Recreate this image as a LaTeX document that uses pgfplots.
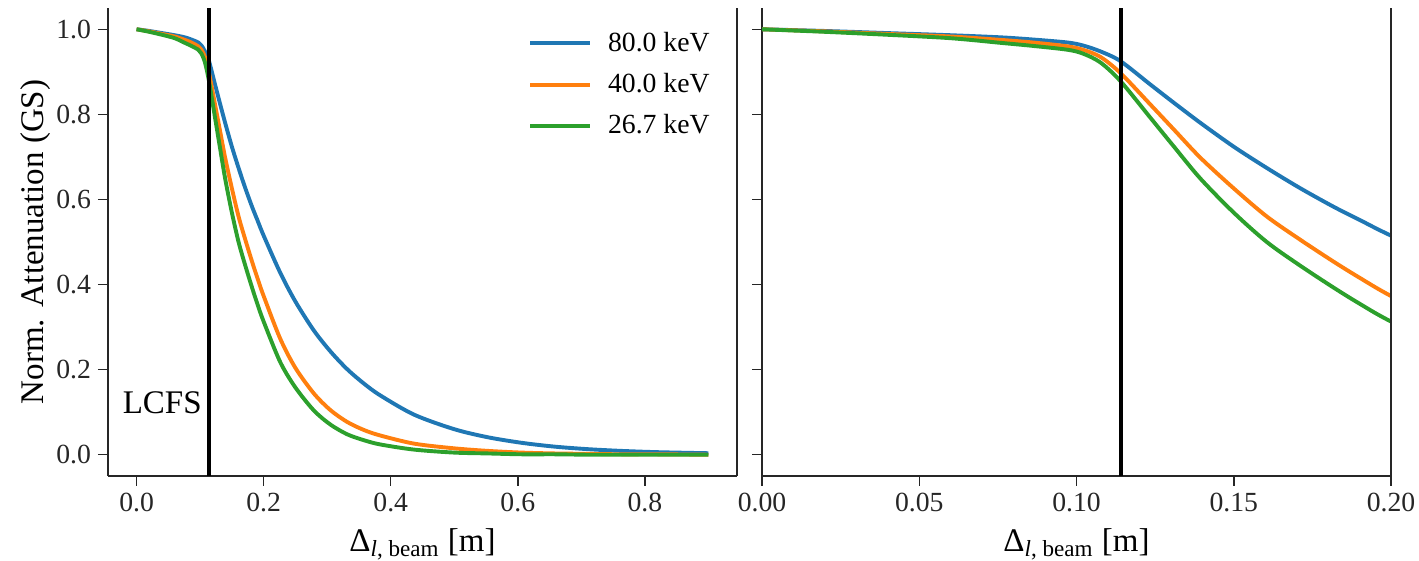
\documentclass[border=0pt]{standalone}
\usepackage{fontspec}
\setmainfont{Liberation Serif}
\usepackage{pgfplots}
\usepackage{pgfplotstable}
\pgfplotsset{compat=1.18}

\definecolor{tabblue}{RGB}{31,119,180}
\definecolor{taborange}{RGB}{255,127,14}
\definecolor{tabgreen}{RGB}{44,160,44}
\definecolor{spine}{gray}{0.15}

% normalised attenuation vs distance along the beam, three beam energies
\pgfplotstableread{
x       b      o      g
0.000  1.000  1.000  1.000
0.020  0.996  0.995  0.994
0.040  0.991  0.989  0.987
0.060  0.986  0.983  0.979
0.076  0.981  0.975  0.968
0.086  0.976  0.969  0.961
0.097  0.969  0.960  0.952
0.102  0.962  0.952  0.943
0.1076 0.948  0.935  0.922
0.114  0.925  0.897  0.878
0.1235 0.870  0.823  0.792
0.131  0.827  0.764  0.724
0.1394 0.780  0.698  0.649
0.150  0.724  0.626  0.569
0.1605 0.674  0.560  0.500
0.171  0.627  0.506  0.445
0.1817 0.583  0.454  0.393
0.190  0.552  0.416  0.355
0.200  0.515  0.373  0.313
0.226  0.428  0.273  0.218
0.250  0.360  0.204  0.158
0.279  0.292  0.144  0.104
0.305  0.243  0.105  0.071
0.3315 0.201  0.077  0.048
0.358  0.167  0.058  0.034
0.384  0.139  0.045  0.024
0.437  0.094  0.026  0.012
0.500  0.060  0.015  0.005
0.553  0.041  0.009  0.003
0.606  0.028  0.005  0.001
0.658  0.019  0.003  0.001
0.711  0.013  0.002  0.000
0.763  0.009  0.001  0.000
0.820  0.006  0.001  0.000
0.900  0.0035 0.000  0.000
}\atten

\pgfplotsset{
  panel/.style={
    scale only axis, width=314.5pt, height=234pt,
    ymin=-0.05, ymax=1.05,
    axis x line*=bottom, axis y line*=left,
    axis line style={-, draw=spine, line width=0.6pt},
    tick align=outside,
    major tick length=5pt,
    every tick/.style={draw=spine, line width=0.75pt},
    ytick={0,0.2,0.4,0.6,0.8,1},
    tick label style={font=\fontsize{13.85}{16}\selectfont, text=spine},
    label style={font=\fontsize{16.5}{20}\selectfont},
    /pgf/number format/assume math mode=true,
    xlabel={Δ\textsubscript{\textit{l}, beam} [m]},
    xlabel style={at={(axis description cs:0.5,-0.1603)}, anchor=base},
    every axis plot/.append style={line width=1.95pt, line join=round},
  },
}

\begin{document}
\begin{tikzpicture}
  \begin{axis}[panel, name=L, at={(0,0)}, anchor=south west,
      xmin=-0.045, xmax=0.945,
      xtick={0,0.2,0.4,0.6,0.8},
      xticklabel style={/pgf/number format/.cd, fixed, fixed zerofill, precision=1},
      yticklabel style={/pgf/number format/.cd, fixed, fixed zerofill, precision=1},
      ylabel={Norm. Attenuation (GS)},
      ylabel style={at={(axis description cs:-0.1033,0.5)}, anchor=base},
      legend style={at={(axis description cs:0.973,0.966)}, anchor=north east,
        draw=none, fill=none, font=\fontsize{13.85}{16}\selectfont,
        row sep=5.5pt, /tikz/every odd column/.append style={column sep=6pt}},
      legend cell align=left,
      legend image code/.code={\draw[#1] (0pt,0pt) -- (30pt,0pt);},
    ]
    \addplot[tabblue, smooth, tension=0.5] table[x=x, y=b] {\atten};
    \addlegendentry{80.0 keV}
    \addplot[taborange, smooth, tension=0.5] table[x=x, y=o] {\atten};
    \addlegendentry{40.0 keV}
    \addplot[tabgreen, smooth, tension=0.5] table[x=x, y=g] {\atten};
    \addlegendentry{26.7 keV}
    \addplot[black, line width=2pt, forget plot] coordinates {(0.114,-0.05) (0.114,1.05)};
    \node[anchor=base east, inner sep=0pt, font=\fontsize{16.5}{20}\selectfont]
      at (axis cs:0.103,0.097) {LCFS};
  \end{axis}
  \draw[spine, line width=0.6pt] (L.south east) -- (L.north east);

  \begin{axis}[panel, name=R, at={(327pt,0)}, anchor=south west,
      xmin=0, xmax=0.2,
      xtick={0,0.05,0.1,0.15,0.2},
      xticklabel style={/pgf/number format/.cd, fixed, fixed zerofill, precision=2},
      yticklabels={},
    ]
    \addplot[tabblue, smooth, tension=0.5] table[x=x, y=b] {\atten};
    \addplot[taborange, smooth, tension=0.5] table[x=x, y=o] {\atten};
    \addplot[tabgreen, smooth, tension=0.5] table[x=x, y=g] {\atten};
    \addplot[black, line width=2pt] coordinates {(0.114,-0.05) (0.114,1.05)};
  \end{axis}
  \draw[spine, line width=0.6pt] (R.south east) -- (R.north east);

  \pgfresetboundingbox
  \path[use as bounding box] (-54pt,-42.5pt) rectangle (655.5pt,238pt);
\end{tikzpicture}
\end{document}
